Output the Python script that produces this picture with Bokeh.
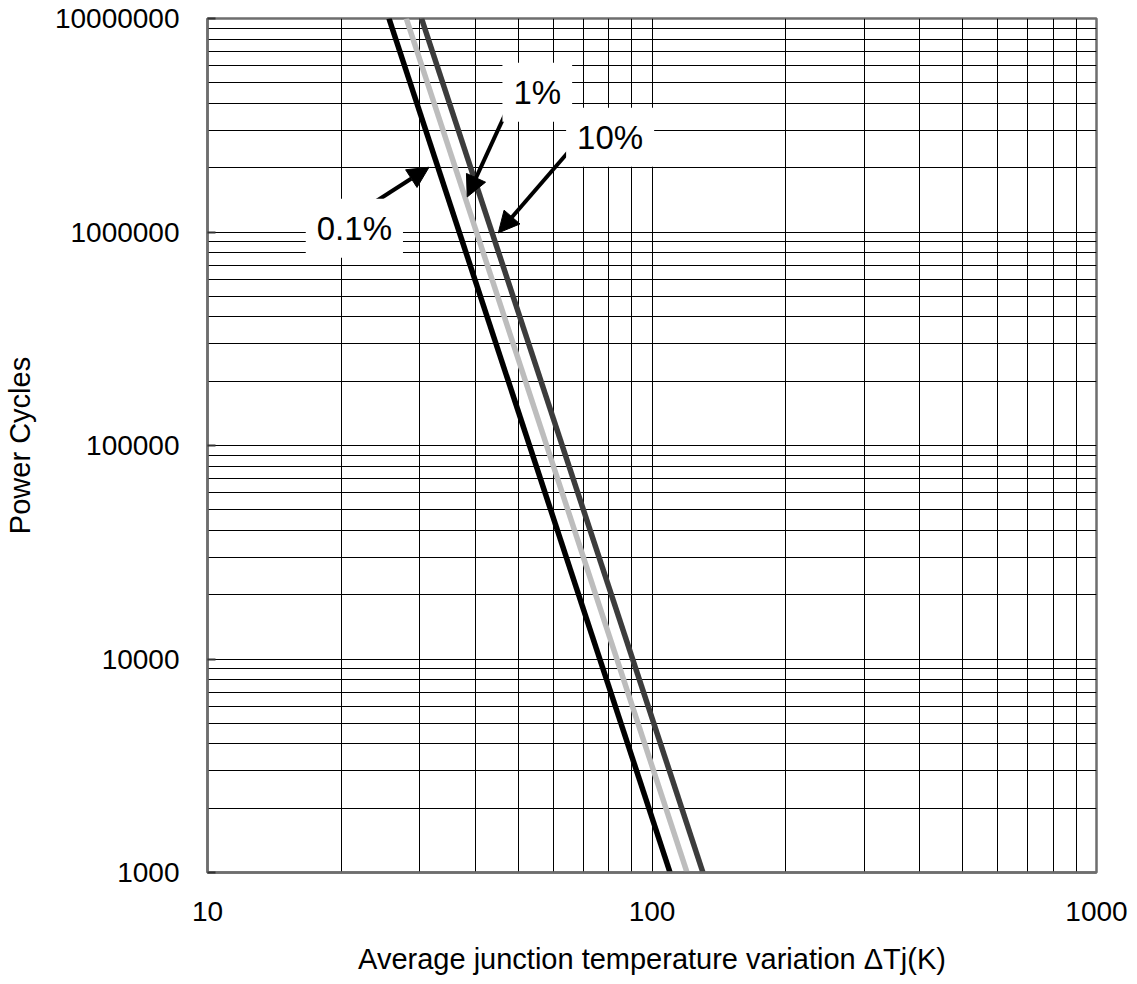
from bokeh.plotting import figure
from bokeh.models import (FixedTicker, NumeralTickFormatter, Label, Arrow, NormalHead)
from bokeh.embed import file_html
from bokeh.resources import INLINE

# ---- data ----
series_names = ["0.1%", "1%", "10%"]
dtj_01 = [25.6, 109.8]       # K at N = 1e7 and N = 1e3
dtj_1 = [28.0, 119.9]
dtj_10 = [30.3, 130.2]
cycles = [1e7, 1e3]

x_major = [10, 100, 1000]
x_minor = [20, 30, 40, 50, 60, 70, 80, 90, 200, 300, 400, 500, 600, 700, 800, 900]
y_major = [1e3, 1e4, 1e5, 1e6, 1e7]
y_minor = [m * d for d in [1e3, 1e4, 1e5, 1e6] for m in range(2, 10)]

# annotation positions (data coords): label centre, arrow start, arrow tip
label_pos = [(21.4, 1.04e6), (55.2, 4.52e6), (80.5, 2.78e6)]
arrow_start = [(23.0, 1.32e6), (48.0, 4.02e6), (65.4, 2.42e6)]
arrow_end = [(31.5, 2.01e6), (38.4, 1.46e6), (45.1, 9.9e5)]

FONT = "Liberation Sans"

p = figure(width=1130, height=982, x_axis_type="log", y_axis_type="log",
           x_range=(10, 1000), y_range=(1000, 1e7),
           output_backend="svg", toolbar_location=None,
           min_border_left=206, min_border_right=34,
           min_border_top=18, min_border_bottom=110)

p.background_fill_color = "white"
p.border_fill_color = "white"
p.outline_line_color = "#6e6e6e"
p.outline_line_width = 2.5

# tickers
p.xaxis.ticker = FixedTicker(ticks=x_major, minor_ticks=x_minor)
p.yaxis.ticker = FixedTicker(ticks=y_major, minor_ticks=y_minor)
p.xaxis.formatter = NumeralTickFormatter(format="0")
p.yaxis.formatter = NumeralTickFormatter(format="0")

for ax in (p.xaxis, p.yaxis):
    ax.major_label_text_font = FONT
    ax.major_label_text_font_size = "28px"
    ax.major_label_text_color = "black"
    ax.axis_label_text_font = FONT
    ax.axis_label_text_font_size = "29px"
    ax.axis_label_text_font_style = "normal"
    ax.axis_label_text_color = "black"
    ax.axis_line_color = "#6e6e6e"
    ax.axis_line_width = 2.5
    ax.minor_tick_line_color = None
    ax.major_tick_out = 0

p.xaxis.major_tick_in = 0
p.yaxis.major_tick_in = 8
p.yaxis.major_tick_line_color = "#333333"
p.yaxis.major_tick_line_width = 2

p.xaxis.axis_label = "Average junction temperature variation \u0394Tj(K)"
p.yaxis.axis_label = "Power Cycles"
p.xaxis.major_label_standoff = 25
p.yaxis.major_label_standoff = 24
p.xaxis.axis_label_standoff = 19
p.yaxis.axis_label_standoff = 16

for g in (p.xgrid, p.ygrid):
    g.grid_line_color = "black"
    g.grid_line_width = 1
    g.grid_line_alpha = 1
    g.minor_grid_line_color = "black"
    g.minor_grid_line_width = 1
    g.minor_grid_line_alpha = 1

# series
p.line(dtj_01, cycles, line_color="#000000", line_width=5.5)
p.line(dtj_1, cycles, line_color="#bdbdbd", line_width=5.5)
p.line(dtj_10, cycles, line_color="#3c3c3c", line_width=5.5)

# annotations
for (xs, ys), (xe, ye) in zip(arrow_start, arrow_end):
    p.add_layout(Arrow(x_start=xs, y_start=ys, x_end=xe, y_end=ye,
                       line_color="black", line_width=4,
                       end=NormalHead(size=21, fill_color="black", line_color="black")))

for name, (lx, ly) in zip(series_names, label_pos):
    p.add_layout(Label(x=lx, y=ly, text=name, text_align="center", text_baseline="middle",
                       text_font=FONT, text_font_size="33px", text_color="black",
                       background_fill_color="white", padding=11))

open("out.html", "w").write(file_html(p, INLINE))
